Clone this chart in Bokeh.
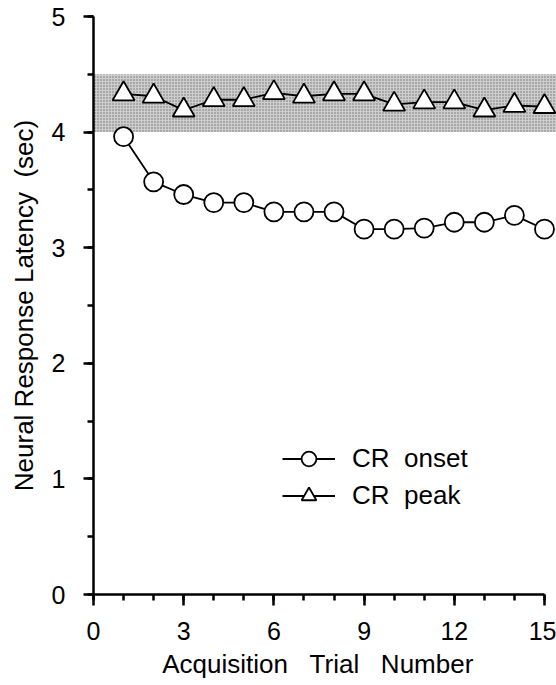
from bokeh.plotting import figure
from bokeh.models import SingleIntervalTicker, Range1d, Legend, LegendItem
from bokeh.embed import file_html
from bokeh.resources import INLINE

trials = list(range(1, 16))
cr_onset = [3.96, 3.57, 3.46, 3.39, 3.39, 3.31, 3.31, 3.31, 3.16, 3.16, 3.17, 3.22, 3.22, 3.28, 3.16]
cr_peak = [4.33, 4.31, 4.19, 4.28, 4.28, 4.34, 4.31, 4.33, 4.33, 4.24, 4.26, 4.26, 4.19, 4.23, 4.22]
band_left = [0]
band_right = [15.5]
band_bottom = [4.0]
band_top = [4.5]

FONT = "Liberation Sans"
NB = "\u00a0"

p = figure(width=556, height=685, output_backend="svg", toolbar_location=None,
           x_range=Range1d(0, 15.4), y_range=Range1d(0, 5),
           min_border_left=93, min_border_right=0, min_border_top=16, min_border_bottom=91)
p.outline_line_color = None
p.grid.visible = False

p.quad(left=band_left, right=band_right, bottom=band_bottom, top=band_top,
       fill_color="#cdcdcd", line_color=None,
       hatch_pattern="dot", hatch_color="#707070", hatch_scale=3, hatch_weight=1)

l1 = p.line(trials, cr_onset, line_color="black", line_width=1.8)
s1 = p.scatter(trials, cr_onset, marker="circle", size=19, fill_color="white",
               line_color="black", line_width=1.8)
l2 = p.line(trials, cr_peak, line_color="black", line_width=1.8)
s2 = p.scatter(trials, cr_peak, marker="triangle", size=22, fill_color="white",
               line_color="black", line_width=1.8)

for ax in (p.xaxis[0], p.yaxis[0]):
    ax.axis_line_width = 2.5
    ax.axis_line_color = "black"
    ax.major_tick_line_width = 2.5
    ax.minor_tick_line_width = 2.5
    ax.major_tick_line_color = "black"
    ax.minor_tick_line_color = "black"
    ax.major_tick_in = 0
    ax.minor_tick_in = 0
    ax.major_label_text_font = FONT
    ax.major_label_text_font_size = "25px"
    ax.major_label_text_color = "black"
    ax.axis_label_text_font = FONT
    ax.axis_label_text_font_size = "26px"
    ax.axis_label_text_font_style = "normal"
    ax.axis_label_text_color = "black"

p.xaxis[0].ticker = SingleIntervalTicker(interval=3, num_minor_ticks=3)
p.xaxis[0].bounds = (0, 15)
p.xaxis[0].major_tick_out = 11
p.xaxis[0].minor_tick_out = 6
p.xaxis[0].major_label_standoff = 16
p.xaxis[0].axis_label = "Acquisition" + NB * 3 + "Trial" + NB * 3 + "Number" + NB * 2
p.xaxis[0].axis_label_standoff = 6

p.yaxis[0].ticker = SingleIntervalTicker(interval=1, num_minor_ticks=2)
p.yaxis[0].bounds = (0, 5)
p.yaxis[0].major_tick_out = 10
p.yaxis[0].minor_tick_out = 6
p.yaxis[0].major_label_standoff = 18
p.yaxis[0].axis_label = "Neural Response Latency" + NB * 2 + "(sec)"
p.yaxis[0].axis_label_standoff = 10

legend = Legend(items=[LegendItem(label="CR" + NB * 2 + "onset", renderers=[l1, s1]),
                       LegendItem(label="CR" + NB * 2 + "peak", renderers=[l2, s2])],
                location=(189, 80))
legend.background_fill_alpha = 0
legend.border_line_alpha = 0
legend.padding = 0
legend.margin = 0
legend.spacing = 0
legend.glyph_width = 53
legend.glyph_height = 37
legend.label_height = 37
legend.label_standoff = 17
legend.label_text_font = FONT
legend.label_text_font_size = "26px"
legend.label_text_color = "black"
p.add_layout(legend)

open("out.html", "w").write(file_html(p, INLINE))
